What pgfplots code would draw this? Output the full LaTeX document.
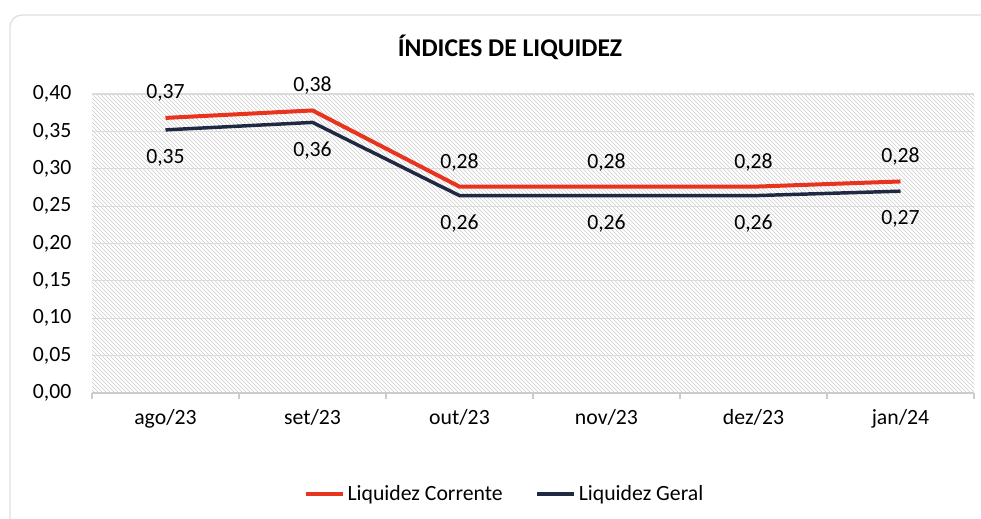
\documentclass[border=0pt]{standalone}
\usepackage{fontspec}
\setmainfont{Carlito}
\usepackage{pgfplots}
\pgfplotsset{compat=1.18}
\usetikzlibrary{patterns}
\definecolor{lcred}{RGB}{232,52,30}
\definecolor{lgnavy}{RGB}{32,41,66}
\begin{document}
\begin{tikzpicture}
\useasboundingbox (-69pt,-93.75pt) rectangle (666.75pt,294.75pt);
\draw[gray!25, line width=1pt, rounded corners=9pt] (-61.5pt,-110pt) rectangle (680pt,283.5pt);
\begin{axis}[
  at={(0,0)}, anchor=south west, scale only axis,
  width=661.5pt, height=224.25pt,
  xmin=-0.5, xmax=5.5, ymin=0, ymax=0.4,
  xtick={-0.5,0.5,1.5,2.5,3.5,4.5,5.5}, x tick label as interval,
  xticklabels={ago/23,set/23,out/23,nov/23,dez/23,jan/24},
  ytick={0,0.05,0.1,0.15,0.2,0.25,0.3,0.35,0.4},
  separate axis lines,
  axis x line*=bottom, axis y line*=left,
  x axis line style={gray!40, line width=1pt, -},
  y axis line style={draw=none},
  xtick style={gray!40, line width=1pt},
  ytick style={draw=none},
  major tick length=4.5pt, tick align=outside,
  ymajorgrids, major grid style={gray!28, line width=0.8pt},
  axis background/.style={pattern=north west lines, pattern color=gray!40},
  tick label style={font=\fontsize{16.3}{19}\selectfont},
  yticklabel style={xshift=-7.5pt},
  xticklabel style={yshift=-4pt},
  /pgf/number format/.cd, use comma, fixed, fixed zerofill, precision=2, assume math mode=true,
  /pgfplots/.cd,
  legend style={at={(0.468,-0.338)}, anchor=center, draw=none, fill=none,
    legend columns=2, font=\fontsize{16.3}{19}\selectfont,
    /tikz/every even column/.append style={column sep=22pt}},
  legend image code/.code={\draw[#1, line width=3pt] (0pt,0pt) -- (28pt,0pt);},
  clip=false,
]
\addplot[lcred, line width=3pt, line join=round, nodes near coords,
  every node near coord/.style={anchor=center, yshift=18.5pt, black, font=\fontsize{16.3}{19}\selectfont}]
  coordinates {(0,0.368) (1,0.378) (2,0.276) (3,0.276) (4,0.276) (5,0.283)};
\addlegendentry{Liquidez Corrente}
\addplot[lgnavy, line width=2.6pt, line join=round, nodes near coords,
  every node near coord/.style={anchor=center, yshift=-21pt, black, font=\fontsize{16.3}{19}\selectfont}]
  coordinates {(0,0.352) (1,0.362) (2,0.264) (3,0.264) (4,0.264) (5,0.270)};
\addlegendentry{Liquidez Geral}
\end{axis}
\node[font=\bfseries\fontsize{19.2}{22}\selectfont] at (313.5pt,259.5pt) {ÍNDICES DE LIQUIDEZ};
\end{tikzpicture}
\end{document}
